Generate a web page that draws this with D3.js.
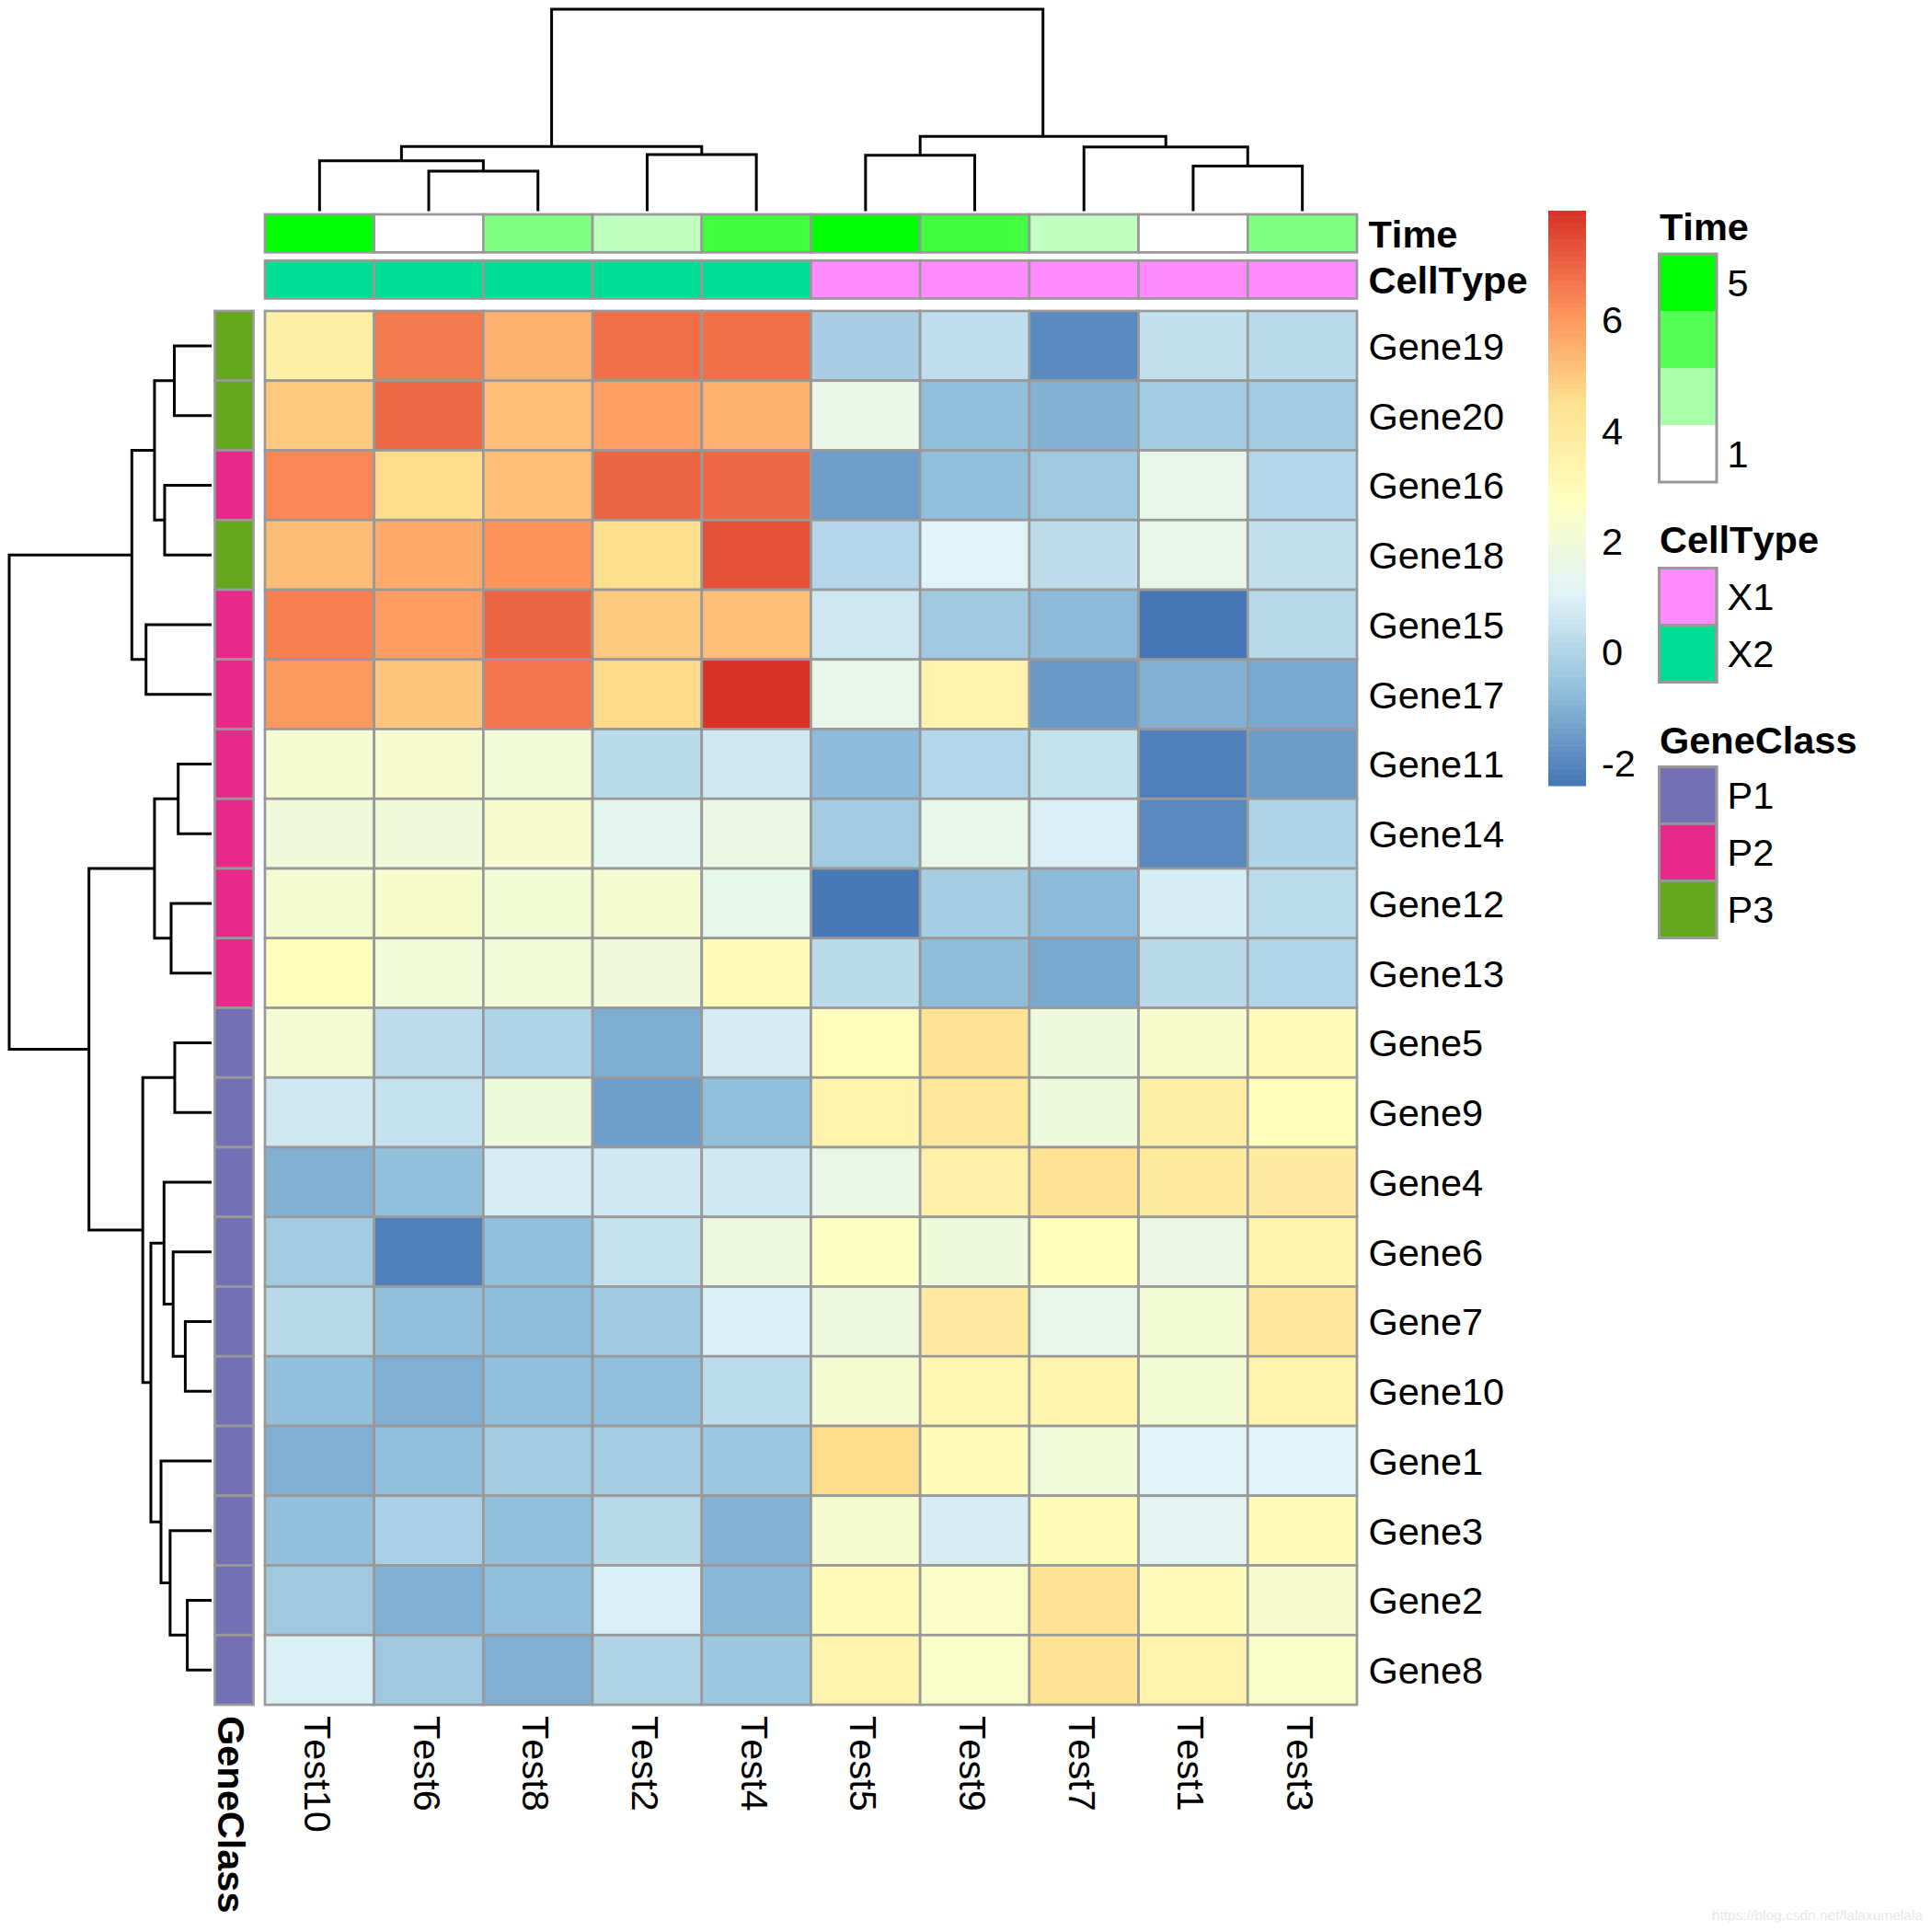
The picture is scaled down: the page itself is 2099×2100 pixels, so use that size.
<!DOCTYPE html>
<html>
<head>
<meta charset="utf-8">
<script src="https://cdn.jsdelivr.net/npm/d3@7"></script>
<style>
  body { margin: 0; background: #fff; }
  text { font-family: "Liberation Sans", Arial, sans-serif; fill: #000; font-kerning: none; }
</style>
</head>
<body>
<div id="canvas"></div>
<script>
const genes = ["Gene19", "Gene20", "Gene16", "Gene18", "Gene15", "Gene17", "Gene11", "Gene14", "Gene12", "Gene13",
  "Gene5", "Gene9", "Gene4", "Gene6", "Gene7", "Gene10", "Gene1", "Gene3", "Gene2", "Gene8"];
const tests = ["Test10", "Test6", "Test8", "Test2", "Test4", "Test5", "Test9", "Test7", "Test1", "Test3"];

// rows follow genes, columns follow tests
const values = [
  [3.7, 6.6, 5.5, 6.8, 6.8, -0.13, 0.33, -1.93, 0.42, 0.22],
  [5.0, 6.9, 5.2, 5.87, 5.5, 1.53, -0.68, -1.0, -0.31, -0.31],
  [6.35, 4.6, 5.2, 7.0, 6.95, -1.47, -0.7, -0.35, 1.5, 0.1],
  [5.25, 5.65, 6.15, 4.5, 7.37, 0.1, 1.1, 0.3, 1.5, 0.42],
  [6.5, 5.95, 7.0, 5.0, 5.2, 0.65, -0.35, -0.8, -2.38, 0.15],
  [6.0, 5.1, 6.7, 4.65, 7.95, 1.5, 3.5, -1.6, -1.0, -1.2],
  [2.2, 2.3, 2.0, 0.25, 0.65, -0.78, 0.08, 0.45, -2.15, -1.5],
  [1.95, 1.95, 2.3, 1.3, 1.65, -0.3, 1.5, 0.95, -1.95, 0],
  [2.25, 2.35, 2.1, 2.25, 1.45, -2.35, -0.2, -0.8, 0.85, 0.28],
  [2.85, 2.0, 2.05, 1.95, 3.0, 0.25, -0.75, -1.2, 0.2, 0.05],
  [2.15, 0.3, 0, -1.1, 0.8, 2.9, 4.35, 1.9, 2.4, 3.05],
  [0.65, 0.45, 1.9, -1.45, -0.65, 3.45, 4.1, 1.9, 3.7, 2.9],
  [-1.0, -0.65, 0.85, 0.7, 0.65, 1.6, 3.6, 4.4, 3.95, 3.9],
  [-0.3, -2.15, -0.7, 0.45, 1.8, 2.7, 1.9, 2.85, 1.65, 3.4],
  [0.15, -0.65, -0.75, -0.35, 0.95, 1.8, 3.9, 1.5, 2.1, 4.1],
  [-0.65, -1.05, -0.7, -0.7, 0.28, 2.25, 3.3, 3.4, 2.1, 3.5],
  [-1.05, -0.68, -0.3, -0.2, -0.4, 4.6, 3.0, 2.0, 1.1, 1.05],
  [-0.65, -0.1, -0.65, 0.2, -0.95, 2.25, 0.85, 3.0, 1.25, 2.95],
  [-0.35, -1.05, -0.7, 0.95, -0.85, 3.05, 2.5, 4.35, 2.95, 2.3],
  [0.95, -0.35, -1.05, 0, -0.4, 3.4, 2.45, 4.35, 3.45, 2.45]
];

const timeValues = [5, 1, 3, 2, 4, 5, 4, 2, 1, 3];
const cellTypes = ["X2", "X2", "X2", "X2", "X2", "X1", "X1", "X1", "X1", "X1"];
const geneClasses = ["P3", "P3", "P2", "P3", "P2", "P2", "P2", "P2", "P2", "P2",
  "P1", "P1", "P1", "P1", "P1", "P1", "P1", "P1", "P1", "P1"];

// merges like hclust: [left, right, height], number = earlier merge
const colMerges = [
  ["Test6", "Test8", 19.8],
  ["Test10", 0, 25.0],
  ["Test2", "Test4", 28.0],
  [1, 2, 32.0],
  ["Test5", "Test9", 27.7],
  ["Test1", "Test3", 22.3],
  ["Test7", 5, 31.8],
  [4, 6, 37.0],
  [3, 7, 100]
];
const rowMerges = [
  ["Gene19", "Gene20", 18.4],
  ["Gene16", "Gene18", 23.2],
  [0, 1, 28.2],
  ["Gene15", "Gene17", 32.4],
  [2, 3, 39.4],
  ["Gene11", "Gene14", 16.5],
  ["Gene12", "Gene13", 20],
  [5, 6, 28.2],
  ["Gene5", "Gene9", 18.2],
  ["Gene7", "Gene10", 13],
  ["Gene6", 9, 19],
  ["Gene4", 10, 23.5],
  ["Gene2", "Gene8", 12],
  ["Gene3", 12, 20.5],
  ["Gene1", 13, 25],
  [11, 14, 30],
  [8, 15, 34],
  [7, 16, 60.6],
  [4, 17, 100]
];

const heatColors = ["#4575B4", "#91BFDB", "#E0F3F8", "#FFFFBF", "#FEE090", "#FC8D59", "#D73027"];
const valueRange = [-2.41, 7.98];
const legendTicks = [-2, 0, 2, 4, 6];
const timeLegend = [5, 3.67, 2.33, 1];
const timeLegendLabels = ["5", "", "", "1"];
const cellTypeNames = ["X1", "X2"];
const cellTypeColors = ["#FF8CFF", "#00DE96"];
const geneClassNames = ["P1", "P2", "P3"];
const geneClassColors = ["#7570B3", "#E7298A", "#66A61E"];

const width = 2099;
const height = 2100;
const fontSize = 41.5;
const grey = "#999999";
const cellStroke = 2.7;
const lineWidth = 3;

const svg = d3.select("#canvas").append("svg")
  .attr("width", width)
  .attr("height", height)
  .style("display", "block");

const x = d3.scaleBand().domain(tests).range([288, 1475]);
const y = d3.scaleBand().domain(genes).range([338, 1853]);

const ramp = d3.scaleLinear()
  .domain(d3.range(heatColors.length).map(i => valueRange[0] + i * (valueRange[1] - valueRange[0]) / (heatColors.length - 1)))
  .range(heatColors);
const timeColor = d3.scaleLinear().domain([1, 5]).range(["#FFFFFF", "#00FF00"]);
const cellTypeColor = d3.scaleOrdinal(cellTypeNames, cellTypeColors);
const geneClassColor = d3.scaleOrdinal(geneClassNames, geneClassColors);

// heatmap cells
const rows = svg.append("g").selectAll("g").data(values).join("g")
  .attr("transform", (d, i) => `translate(0,${y(genes[i])})`);
rows.selectAll("rect").data(d => d).join("rect")
  .attr("x", (d, i) => x(tests[i]))
  .attr("width", x.bandwidth())
  .attr("height", y.bandwidth())
  .attr("fill", d => ramp(d))
  .attr("stroke", grey)
  .attr("stroke-width", cellStroke);

// column annotations
const annY = d3.scaleBand().domain(["Time", "CellType"]).range([233, 324.5]).paddingInner(0.177);
const annRow = (name, colorOf) => svg.append("g").selectAll("rect").data(tests).join("rect")
  .attr("x", d => x(d))
  .attr("y", annY(name))
  .attr("width", x.bandwidth())
  .attr("height", annY.bandwidth())
  .attr("fill", (d, i) => colorOf(i))
  .attr("stroke", grey)
  .attr("stroke-width", cellStroke);
annRow("Time", i => timeColor(timeValues[i]));
annRow("CellType", i => cellTypeColor(cellTypes[i]));

// row annotation
svg.append("g").selectAll("rect").data(genes).join("rect")
  .attr("x", 233.5)
  .attr("y", d => y(d))
  .attr("width", 42)
  .attr("height", y.bandwidth())
  .attr("fill", (d, i) => geneClassColor(geneClasses[i]))
  .attr("stroke", grey)
  .attr("stroke-width", cellStroke);

// dendrograms
function drawTree(merges, leafPos, heightPos, vertical) {
  const nodes = [];
  const place = n => typeof n === "number" ? nodes[n] : { at: leafPos(n), h: 0 };
  const path = d3.path();
  const pt = (along, across) => vertical ? [along, across] : [across, along];
  merges.forEach(([l, r, h]) => {
    const a = place(l);
    const b = place(r);
    path.moveTo(...pt(a.at, heightPos(a.h)));
    path.lineTo(...pt(a.at, heightPos(h)));
    path.lineTo(...pt(b.at, heightPos(h)));
    path.lineTo(...pt(b.at, heightPos(b.h)));
    nodes.push({ at: (a.at + b.at) / 2, h: h });
  });
  svg.append("path")
    .attr("d", path.toString())
    .attr("fill", "none")
    .attr("stroke", "#000")
    .attr("stroke-width", lineWidth);
}
drawTree(colMerges, n => x(n) + x.bandwidth() / 2, d3.scaleLinear([0, 100], [229.5, 10]), true);
drawTree(rowMerges, n => y(n) + y.bandwidth() / 2, d3.scaleLinear([0, 100], [230, 10]), false);

// axes used as text labels
function cleanAxis(g) {
  g.select(".domain").remove();
  g.selectAll("line").remove();
  g.selectAll("text").attr("font-size", fontSize).style("font-family", null);
  g.attr("font-family", null).attr("font-size", null);
}
svg.append("g")
  .attr("transform", "translate(1475,0)")
  .call(d3.axisRight(y).tickSize(0).tickPadding(12.5))
  .call(cleanAxis)
  .selectAll("text").attr("dy", "0.36em");
svg.append("g")
  .attr("transform", "translate(1475,0)")
  .call(d3.axisRight(annY).tickSize(0).tickPadding(12.5))
  .call(cleanAxis)
  .selectAll("text").attr("dy", "0.37em").attr("font-weight", "bold");
svg.append("g")
  .attr("transform", "translate(0,1853)")
  .call(d3.axisBottom(x).tickSize(0))
  .call(cleanAxis)
  .selectAll("text")
  .attr("text-anchor", "start")
  .attr("dy", null)
  .attr("y", 16.5)
  .attr("transform", "translate(0,12) rotate(90)");
svg.append("text")
  .attr("transform", "translate(254.5,1865) rotate(90)")
  .attr("y", 18)
  .attr("font-size", fontSize)
  .attr("font-weight", "bold")
  .text("GeneClass");

// colour bar
const barY = d3.scaleLinear().domain(valueRange).range([854, 229]);
const steps = d3.range(100).map(i => valueRange[0] + (i + 0.5) * (valueRange[1] - valueRange[0]) / 100);
const stepSize = (valueRange[1] - valueRange[0]) / 100;
svg.append("g").selectAll("rect").data(steps).join("rect")
  .attr("x", 1683)
  .attr("y", d => barY(d + stepSize / 2))
  .attr("width", 41)
  .attr("height", d => barY(d - stepSize / 2) - barY(d + stepSize / 2) + 0.5)
  .attr("fill", d => ramp(d));
svg.append("g")
  .attr("transform", "translate(1724,0)")
  .call(d3.axisRight(barY).tickValues(legendTicks).tickFormat(String).tickSize(0).tickPadding(17))
  .call(cleanAxis)
  .selectAll("text").attr("dy", "0.33em");

// discrete legends
function legend(title, baseline, top, rowH, names, labels, colors, separators) {
  const g = svg.append("g");
  g.append("text")
    .attr("x", 1804)
    .attr("y", baseline)
    .attr("font-size", fontSize)
    .attr("font-weight", "bold")
    .text(title);
  const ly = d3.scaleBand().domain(names).range([top, top + rowH * names.length]);
  g.selectAll("rect.swatch").data(names).join("rect")
    .attr("class", "swatch")
    .attr("x", 1803.5)
    .attr("y", d => ly(d))
    .attr("width", 62.5)
    .attr("height", ly.bandwidth())
    .attr("fill", (d, i) => colors[i])
    .attr("stroke", separators ? grey : "none")
    .attr("stroke-width", cellStroke);
  g.append("rect")
    .attr("x", 1803.5)
    .attr("y", top)
    .attr("width", 62.5)
    .attr("height", rowH * names.length)
    .attr("fill", "none")
    .attr("stroke", grey)
    .attr("stroke-width", cellStroke + 0.3);
  g.selectAll("text.lab").data(names).join("text")
    .attr("class", "lab")
    .attr("x", 1877.5)
    .attr("y", d => ly(d) + ly.bandwidth() / 2)
    .attr("dy", "0.36em")
    .attr("font-size", fontSize)
    .text((d, i) => labels[i]);
}
legend("Time", 261, 276, 62, timeLegend, timeLegendLabels, timeLegend.map(d => timeColor(d)), false);
legend("CellType", 601, 617.5, 62, cellTypeNames, cellTypeNames, cellTypeColors, true);
legend("GeneClass", 818.5, 833.5, 62, geneClassNames, geneClassNames, geneClassColors, true);

// watermark
svg.append("text")
  .attr("x", 2090)
  .attr("y", 2087)
  .attr("text-anchor", "end")
  .attr("font-size", 15.5)
  .style("fill", "#e9e9e9")
  .text("https://blog.csdn.net/lalaxumelala");
</script>
</body>
</html>
